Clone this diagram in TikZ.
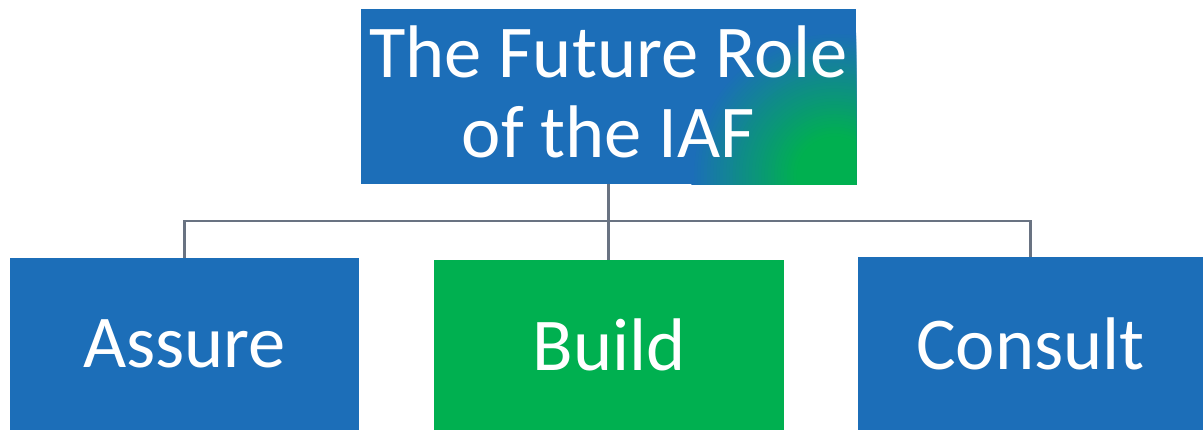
\documentclass[tikz,border=0pt]{standalone}
\usepackage{fontspec}
\setmainfont{Carlito}

\definecolor{iafblue}{RGB}{28,110,184}
\definecolor{iafgreen}{RGB}{0,176,80}
\definecolor{linkgray}{RGB}{105,115,130}

\tikzset{
  rolebox/.style={rectangle, fill=iafblue, text=white, inner sep=0pt,
    font=\fontsize{53}{57}\selectfont},
  link/.style={draw=linkgray, line width=1.5pt},
  % green glow in the lower right corner, built from rings
  glow/.style={path picture={
      \coordinate (glowc) at ([xshift=-0.525cm,yshift=0.225cm]path picture bounding box.south east);
      \foreach \i in {0,...,44} {
        \pgfmathsetmacro{\rad}{3.6-\i*0.08}
        \pgfmathtruncatemacro{\mix}{min(100,100*(3.6-\rad)/2.6)}
        \fill[iafgreen!\mix!iafblue] (glowc) circle (\rad cm);
      }}},
}

\begin{document}
\begin{tikzpicture}[x=0.025cm, y=-0.025cm]
      \useasboundingbox (0,0) rectangle (1203,430);

      % top of the chart
      \node[rolebox, glow, align=center, text depth=0.25cm,
        minimum width=12.375cm, minimum height=4.375cm]
        (title) at (608.5, 96.5) {The Future Role\\of the IAF};

      % the three roles
      \node[rolebox, minimum width=8.725cm, minimum height=4.3cm] (assure) at (184.5, 344) {Assure};
      \node[rolebox, fill=iafgreen, minimum width=8.75cm, minimum height=4.25cm] (build) at (609, 345) {Build};
      \node[rolebox, minimum width=8.625cm, minimum height=4.325cm] (consult) at (1030.5, 343.5) {Consult};

      % connectors
      \coordinate (hub) at (608.5, 221);
      \draw[link] (title.south) -- (title.south |- build.north);
      \draw[link] (assure.north) |- (hub) -| (consult.north);
\end{tikzpicture}
\end{document}
